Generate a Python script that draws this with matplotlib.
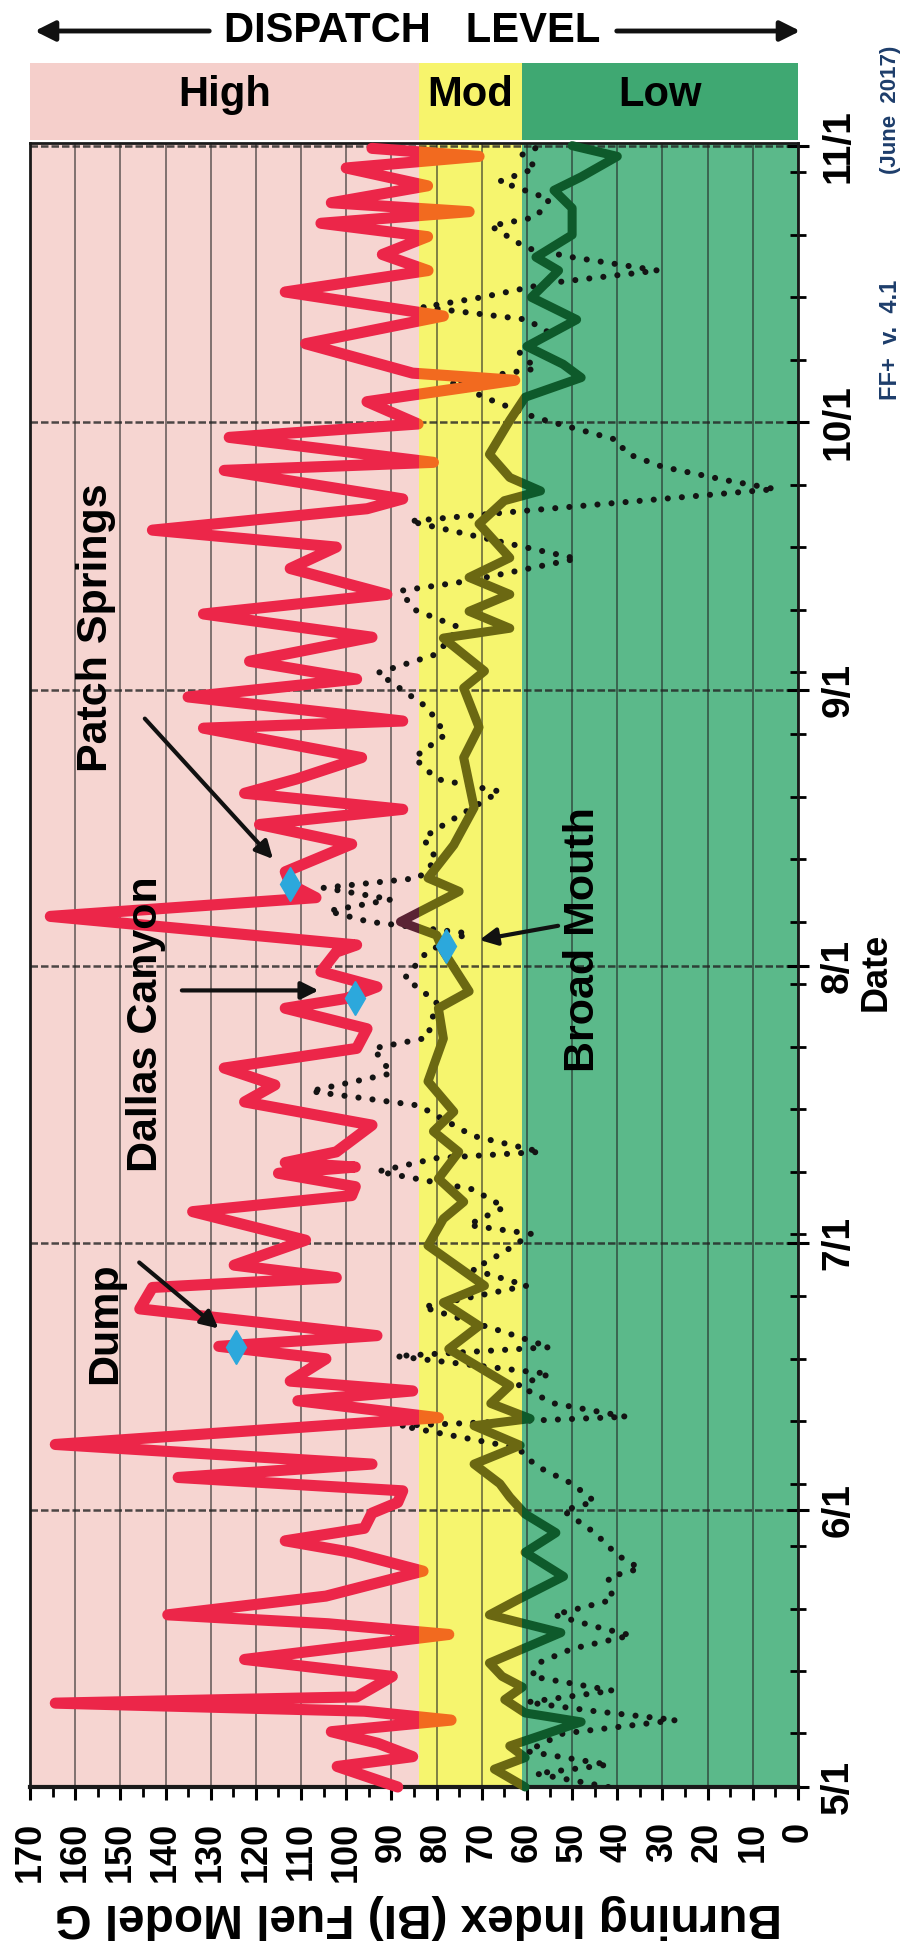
import numpy as np
import matplotlib
matplotlib.use('Agg')
import matplotlib.pyplot as plt
from matplotlib.patches import Rectangle
from matplotlib import font_manager

# ## Data: Burning Index vs. days after 5/1 (chart is drawn rotated)
red_day = [0.0, 2.3, 3.4, 4.9, 6.2, 7.5, 8.5, 9.4, 10.1, 12.4, 14.3, 17.1, 18.3, 19.3, 21.4,
           24.2, 26.3, 27.6, 29.0, 30.7, 31.9, 33.2, 34.7, 36.2, 38.4, 41.4, 43.3, 44.4, 45.5,
           48.0, 49.4, 50.6, 53.6, 56.0, 57.1, 58.5, 61.3, 64.5, 66.3, 67.3, 68.8, 69.5, 70.0,
           71.2, 74.2, 76.8, 78.7, 80.6, 82.8, 85.0, 87.3, 88.4, 89.7, 91.4, 93.6, 94.4, 97.6,
           99.7, 101.2, 102.6, 105.7, 107.9, 109.6, 111.4, 113.0, 115.4, 118.7, 119.5, 122.2,
           124.2, 126.2, 128.9, 131.5, 133.7, 136.6, 139.0, 140.9, 143.3, 144.4, 147.6, 148.5,
           151.3, 152.8, 155.3, 157.7, 158.5, 161.8, 164.9, 167.6, 170.0, 171.8, 173.8, 175.3,
           176.6, 177.6, 179.5, 181.5, 182.8, 183.7]
red_bi = [88.6, 102, 85.3, 93, 103.3, 76.8, 96, 164.4, 97.7, 89.8, 122.5, 77.3, 104, 139.5, 104.5,
          83, 98.8, 113.5, 96, 94.3, 88.6, 87.5, 137.2, 94.3, 164.4, 79.6, 110.7, 85.3, 112.4,
          104.5, 128.2, 93.2, 145.7, 142.9, 102.2, 124.8, 109, 134, 98.8, 98, 115, 98, 113.5,
          102.2, 94.3, 122.5, 115.8, 127, 97.7, 95.4, 113.5, 100, 93.2, 105.6, 102.2, 97.7, 165.5,
          106.7, 112.4, 113.5, 98.8, 119.2, 87.5, 122.5, 111, 96.6, 131.6, 87.5, 135,
          97.7, 121.4, 94.3, 131.6, 91, 112.4, 102.2, 142.9, 95.4, 87.5, 127, 80.7,
          125.9, 84.1, 95.4, 62.7, 85.3, 109, 78.5, 113.5, 81.9, 92, 82, 105.6,
          72.8, 103.3, 82, 100, 70.6, 94.3]

grn_day = [0.0, 2.0, 3.3, 4.6, 7.3, 8.3, 9.8, 11.2, 12.4, 13.9, 17.3, 19.3, 21.0, 23.6, 26.3,
           28.5, 30.6, 32.5, 34.0, 36.2, 38.3, 40.5, 41.3, 43.0, 45.0, 49.1, 51.7, 54.3, 56.2,
           60.7, 63.7, 65.6, 68.2, 71.2, 73.5, 75.7, 79.1, 83.9, 87.3, 89.2, 93.7, 95.5, 97.0,
           100.4, 101.9, 105.6, 109.8, 115.4, 118.8, 123.2, 125.1, 128.8, 129.9, 131.8, 133.7,
           135.6, 137.8, 141.6, 144.2, 145.3, 146.8, 149.4, 153.2, 155.8, 158.0, 159.5, 161.5,
           164.5, 167.0, 170.0, 171.5, 174.0, 177.0, 179.0, 180.5, 182.8, 184.0]
grn_bi = [60.4, 67.2, 60.4, 63.8, 48, 60.4, 64.9, 61, 65.5, 68.3, 52.5, 68.3, 62, 51.9, 60.4,
          53.6, 60.4, 63.8, 66, 71.7, 61.5, 71.7, 59.3, 68, 63.8, 77.3, 70.6, 78.5, 69.4,
          81.9, 78.5, 74, 79.6, 75.1, 80.7, 76.2, 81.9, 78.5, 79.6, 72.8, 78.5, 80, 88,
          75, 81.9, 76.2, 71.7, 74, 70.6, 74, 69.4, 78.5, 63.8, 72.8, 63.8,
          72.8, 63.8, 70.6, 65, 57, 63.8, 68.3, 63.8, 60.4, 48, 52, 60,
          49, 59, 53, 58, 50, 50, 54, 48, 40, 50]

dot_day = [0, 1.5, 2.5, 4, 6, 7.5, 8.5, 9.5, 10.8, 12.4, 14, 15.5, 17, 18, 19.3, 21, 23.5, 24.5,
           26, 28.5, 31, 32, 34, 36, 38, 40.5, 41.5, 43, 45, 46.3, 48.3, 49.3, 51, 53.8, 56.2,
           58, 60, 62, 63, 65, 67, 69, 70.5, 71.2, 73, 76.4, 78, 80, 82.8, 84, 88, 90.7, 93.7,
           95.7, 97, 98.2, 99.5, 100.8, 101.9, 104, 106.4, 108, 111.6, 113, 115.4, 118, 121,
           124.9, 127, 130, 132, 134.1, 135.2, 137.7, 139.5, 141.9, 143, 145.5, 146.5, 148,
           149.5, 151, 153.5, 155.5, 157.5, 159, 161, 163, 164.5, 165.9, 167, 168.6, 170,
           171.5, 172.5, 175, 176, 178, 180, 181.5, 183, 184]
dot_bi = [42, 58, 42, 60, 52, 27, 45, 60, 41, 59, 57, 50, 37, 45, 54, 41, 42, 35,
          40, 45, 52, 45, 50, 58, 62, 88, 38, 54, 62, 55, 89, 55, 65, 83, 60,
          72, 65, 59, 73, 65, 72, 93, 80, 57, 72, 84, 108, 90, 94, 82, 80, 87, 82,
          73, 95, 104, 90, 105, 84, 80, 83, 78, 66, 80, 85, 78, 82,
          93, 80, 75, 85, 88, 73, 49, 65, 86, 62, 5, 16, 30,
          38, 40, 58, 68, 77, 58, 62, 55, 60, 83, 70, 55, 31,
          50, 60, 68, 58, 55, 66, 58, 61, 57]

fire_name = ['Dump', 'Dallas Canyon', 'Patch Springs', 'Broad Mouth']
fire_day = [49.3, 88.4, 101.2, 94.3]
fire_bi = [124.5, 98.0, 112.4, 78.0]

month_day = [0, 31, 61, 92, 123, 153, 184]
month_lbl = ['5/1', '6/1', '7/1', '8/1', '9/1', '10/1', '11/1']
bi_ticks = list(range(0, 171, 10))

levels = ['High', 'Mod', 'Low']
level_lo = [84, 61, 0]
level_hi = [170, 84, 61]

# ## Fonts
names = {f.name for f in font_manager.fontManager.ttflist}
NARROW = 'Liberation Sans Narrow' if 'Liberation Sans Narrow' in names else 'Liberation Sans'
nk = 1.0 if NARROW == 'Liberation Sans Narrow' else 0.86
plt.rcParams['font.family'] = ['Liberation Sans', 'DejaVu Sans']

W, H = 912, 1957
fig = plt.figure(figsize=(W / 100, H / 100), dpi=100)
ax = fig.add_axes([30 / W, 1 - 1787 / H, 768 / W, (1787 - 143) / H])
hdr = fig.add_axes([30 / W, 1 - 140 / H, 768 / W, (140 - 63) / H])

# ## Backgrounds
plot_cols = ['#f6d5d1', '#f6f56e', '#5bb98a']
hdr_cols = ['#f5cfcb', '#f7f46c', '#3fa872']
for lo, hi, c in zip(level_lo, level_hi, plot_cols):
    ax.axvspan(lo, hi, color=c, zorder=0, lw=0)
for lo, hi, c, name in zip(level_lo, level_hi, hdr_cols, levels):
    hdr.axvspan(lo, hi, color=c, lw=0)
    hdr.text((lo + hi) / 2, 0.58, name, ha='center', va='center', fontsize=35 * nk,
             fontweight='bold', family=NARROW)
hdr.set_xlim(170, 0)
hdr.set_ylim(0, 1)
hdr.axis('off')

# ## Grid
for v in bi_ticks:
    ax.axvline(v, color='#222222', lw=1.3, alpha=0.6, zorder=1)
for d in month_day:
    ax.axhline(d, color='#222222', lw=1.8, ls=(0, (3, 1.2)), alpha=0.8, zorder=1)


def zone_plot(vals, days, pieces, **kw):
    for color, lo, hi in pieces:
        ln, = ax.plot(vals, days, color=color, solid_joinstyle='round',
                      solid_capstyle='round', **kw)
        ln.set_clip_path(Rectangle((lo, -10), hi - lo, 220, transform=ax.transData))


ax.plot(dot_bi, dot_day, color='#141414', lw=4.4, ls=(0, (0.01, 2.3)),
        dash_capstyle='round', zorder=3)
zone_plot(grn_bi, grn_day, [('#0e5a2b', -5, 61), ('#6b6812', 61, 84), ('#5a2334', 84, 175)],
          lw=6.5, zorder=4)
zone_plot(red_bi, red_day, [('#f26a1f', -5, 84), ('#ec2649', 84, 175)], lw=8, zorder=5)

ax.plot(fire_bi, fire_day, ls='none', marker='d', ms=17, mfc='#2ca8dc', mec='#2ca8dc', zorder=6)

# ## Annotations
lbl_pos = [(153.3, 52.0), (144.3, 85.5), (155.3, 130.0), (47.5, 95.0)]
arr_from = [(146.3, 59.0), (137.0, 89.3), (145.0, 120.0), (52.5, 96.6)]
arr_to = [(127.8, 51.2), (105.5, 89.3), (115.8, 103.8), (71.1, 94.9)]
for name, p, a0, a1 in zip(fire_name, lbl_pos, arr_from, arr_to):
    ax.text(p[0], p[1], name, rotation=90, ha='center', va='center', fontsize=31,
            fontweight='bold', zorder=7)
    ax.annotate('', xy=a1, xytext=a0, zorder=7,
                arrowprops=dict(arrowstyle='-|>', color='#111111', lw=3, mutation_scale=26))

# ## Axes
ax.set_xlim(170, 0)
ax.set_ylim(0, 184.3)
ax.set_xticks(bi_ticks)
ax.set_xticks(range(5, 170, 10), minor=True)
ax.tick_params(axis='x', which='major', direction='out', length=9, width=2.2, pad=16,
               labelsize=26, labelrotation=90)
ax.tick_params(axis='x', which='minor', direction='out', length=7, width=2)
for t in ax.get_xticklabels():
    t.set_fontweight('bold')

ax.yaxis.tick_right()
ax.set_yticks(month_day)
ax.set_yticklabels(month_lbl, rotation=90, va='center', fontsize=28, fontweight='bold')
ax.set_yticks(np.arange(6, 184, 7), minor=True)
ax.tick_params(axis='y', which='major', direction='inout', length=16, width=2.2, pad=8)
ax.tick_params(axis='y', which='minor', direction='inout', length=12, width=2)
for s in ax.spines.values():
    s.set_linewidth(2)
    s.set_color('#1a1a1a')
ax.spines['bottom'].set_linewidth(3)

# ## Outside text
fig.text(0.458, 1 - 1916 / H, 'Burning Index (BI) Fuel Model G', rotation=180, ha='center',
         va='center', fontsize=40 * nk, fontweight='bold', family=NARROW)
fig.text(876 / W, 1 - 972 / H, 'Date', rotation=90, ha='center', va='center', fontsize=26,
         fontweight='bold')
fig.text(891 / W, 1 - 340 / H, 'FF+  v.  4.1', rotation=90, ha='center', va='center',
         fontsize=17, fontweight='bold', color='#1d3d6b')
fig.text(891 / W, 1 - 110 / H, '(June  2017)', rotation=90, ha='center', va='center',
         fontsize=16, fontweight='bold', color='#1d3d6b')
fig.text(412 / W, 1 - 31 / H, 'DISPATCH   LEVEL', ha='center', va='center',
         fontsize=35 * nk, fontweight='bold', family=NARROW)
for x0, x1 in [(212, 32), (614, 803)]:
    hdr.annotate('', xy=(x1 / W, 1 - 31 / H), xytext=(x0 / W, 1 - 31 / H),
                 xycoords='figure fraction', textcoords='figure fraction', annotation_clip=False,
                 arrowprops=dict(arrowstyle='-|>', color='#111111', lw=3.5, mutation_scale=30))

fig.savefig('out.png', dpi=100, facecolor='white')
